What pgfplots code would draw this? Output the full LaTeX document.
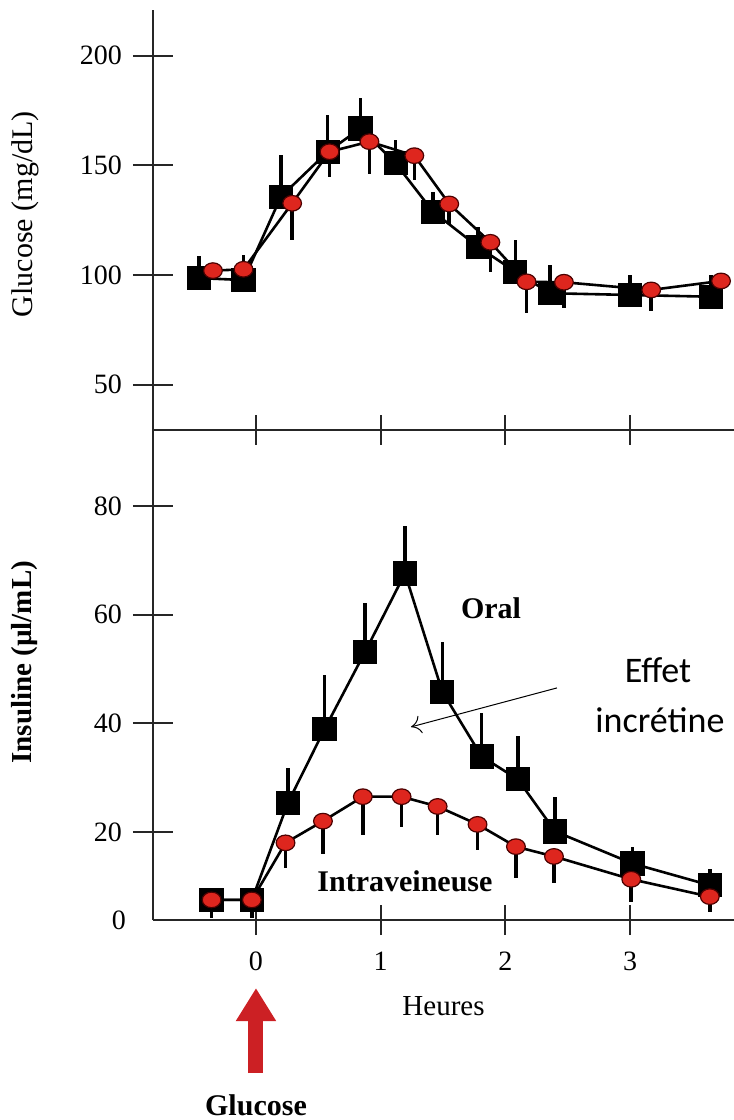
\documentclass[border=0pt]{standalone}
\usepackage{pgfplots}
\pgfplotsset{compat=1.18}
\usepackage{pgfplotstable}
\usepackage{fontspec}
\setmainfont{Liberation Serif}
\newfontfamily\calib{Carlito}
\usetikzlibrary{arrows.meta}
\definecolor{dotred}{RGB}{222,38,30}
\definecolor{arrowred}{RGB}{204,32,36}

% Glucose (mg/dL)
\pgfplotstableread{
x      y      e
-0.457 98.6   9.9
-0.100 97.7   11.4
0.200  135.7  19.0
0.575  156.2  16.7
0.838  166.8  13.7
1.120  150.9  10.5
1.420  128.9  9.0
1.780  112.9  9.0
2.080  101.5  14.4
2.360  91.7   12.9
3.000  90.9   9.1
3.650  90.1   9.9
}\gluoral
\pgfplotstableread{
x      y      e
-0.345 102.0  4
-0.100 102.6  4
0.290  132.7  16.7
0.590  156.2  11.4
0.910  160.8  14.7
1.270  154.4  11.0
1.550  132.4  9.0
1.880  114.9  13.7
2.170  96.9   14.4
2.470  96.7   11.9
3.170  93.2   9.4
3.730  97.3   3
}\gluiv
% Insuline
\pgfplotstableread{
x      y     e
-0.356 7.5   2
-0.033 7.5   2
0.257  25.4  6.3
0.549  38.9  10.0
0.876  53.2  8.9
1.195  67.6  8.7
1.495  45.8  9.2
1.810  33.9  8.0
2.100  29.7  7.9
2.400  20.1  6.4
3.020  14.2  3.0
3.640  10.2  3.0
}\insoral
\pgfplotstableread{
x      y     e
-0.356 7.5   3.4
-0.033 7.5   3.4
0.237  18.0  4.7
0.537  22.0  6.0
0.857  26.5  7.1
1.168  26.5  5.5
1.457  24.7  5.2
1.777  21.4  4.8
2.085  17.3  5.8
2.390  15.5  4.9
3.010  11.3  4.1
3.640  8.1   2.8
}\insiv

\pgfplotsset{
  panel/.style={
    scale only axis, width=290.5pt,
    xmin=-0.826, xmax=3.834,
    axis x line*=bottom, axis y line*=left,
    axis line style={line width=1pt, black!85},
    tick align=center,
    major tick length=20pt,
    tick style={line width=1pt, black!85},
    clip=false,
    tick label style={font=\fontsize{14}{14}\selectfont},
    yticklabel style={xshift=-2pt},
    xticklabel style={yshift=-5pt},
    /pgf/number format/assume math mode=true,
    xtick=\empty,
    extra x ticks={0,1,2,3},
    extra x tick style={major tick length=15pt},
  },
  sq/.style={black, line width=1.3pt, mark=square*, mark size=5.4pt,
    mark options={solid, fill=black},
    error bars/.cd, y dir=plus, y explicit, error mark=none,
    error bar style={line width=1.8pt, black}},
  ci/.style={black, line width=1.3pt, mark=*, mark size=3.9pt,
    mark options={solid, fill=dotred, draw=black!70!red, line width=0.6pt, xscale=1.2},
    error bars/.cd, y dir=minus, y explicit, error mark=none,
    error bar style={line width=1.8pt, black}},
}

\begin{document}
\begin{tikzpicture}
\path[use as bounding box] (-76.5pt,-100pt) rectangle (290.5pt,460pt);

% ---- top: glucose
\begin{axis}[panel, at={(0,245pt)}, anchor=south west, height=210pt,
  ymin=29.35, ymax=220.8,
  extra x tick labels={},
  extra x tick style={major tick length=15pt, xticklabel=\empty},
  ytick={50,100,150,200},
  ylabel={\fontsize{15}{15}\selectfont Glucose (mg/dL)},
  ylabel style={at={(axis description cs:-0.2203,0.514)}, anchor=center},
]
\addplot[sq] table[x=x, y=y, y error=e] {\gluoral};
\addplot[ci] table[x=x, y=y, y error=e] {\gluiv};
\end{axis}

% ---- bottom: insuline
\begin{axis}[panel, at={(0,0)}, anchor=south west, height=245pt,
  ymin=3.8, ymax=94.0,
  ytick={20,40,60,80},
  extra y ticks={3.8}, extra y tick labels={0},
  extra y tick style={major tick length=0pt, yticklabel style={xshift=-8pt}},
  xlabel={\fontsize{14.5}{14.5}\selectfont Heures},
  xlabel style={at={(axis description cs:0.5,0)}, anchor=center, yshift=-43pt},
  ylabel={\fontsize{14.5}{14.5}\selectfont\bfseries Insuline (µl/mL)},
  ylabel style={at={(axis description cs:-0.2203,0.526)}, anchor=center},
]
\addplot[sq] table[x=x, y=y, y error=e] {\insoral};
\addplot[ci] table[x=x, y=y, y error=e] {\insiv};

\node[font=\fontsize{15}{15}\selectfont\bfseries] at (axis cs:1.885,61.25) {Oral};
\node[font=\fontsize{15}{15}\selectfont\bfseries] at (axis cs:1.195,11.0) {Intraveineuse};
\node[font=\calib\fontsize{18}{18}\selectfont] at (axis cs:3.225,49.8) {Effet};
\node[font=\calib\fontsize{18}{18}\selectfont] at (axis cs:3.24,40.6) {incrétine};
\draw[line width=0.5pt, -{To[length=5pt,width=9pt]}] (axis cs:2.414,46.52) -- (axis cs:1.243,39.34);
\draw[arrowred, line width=7.5pt, -{Triangle[length=16.5pt,width=19pt]}] (axis cs:0,-24.4) -- (axis cs:0,-8.73);
\node[font=\fontsize{15}{15}\selectfont\bfseries] at (axis cs:0,-30.3) {Glucose};
\end{axis}
\end{tikzpicture}
\end{document}
